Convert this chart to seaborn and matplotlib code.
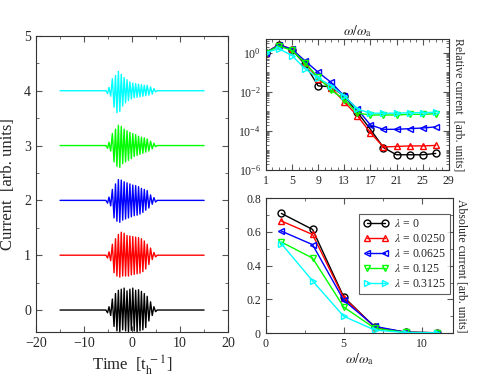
import numpy as np
import pandas as pd
import matplotlib
matplotlib.use("Agg")
import matplotlib.pyplot as plt
import matplotlib.ticker as mticker
import seaborn as sns

# ---- data ----
colors = ["#000000", "#ff0000", "#0000ff", "#00ff00", "#00ffff"]
lam_labels = [r"$\lambda$ = 0", r"$\lambda$ = 0.0250", r"$\lambda$ = 0.0625",
              r"$\lambda$ = 0.125", r"$\lambda$ = 0.3125"]
markers = ["o", "^", "<", "v", ">"]

# left panel: turning points of the current pulses (time, value), offset by 0..4
t_turn = [-15, -5.45, -5.1, -4.8, -4.45, -4.1, -3.75, -3.45, -3.15,
          -2.85, -2.55, -2.25, -1.95, -1.65, -1.35, -1.05, -0.75, -0.45, -0.15,
          0.15, 0.45, 0.75, 1.05, 1.35, 1.65, 1.95, 2.25, 2.55, 2.85,
          3.15, 3.5, 3.85, 4.2, 4.55, 4.9, 5.25, 15]
cur_0 = [0, 0, -0.05, 0.06, -0.1, 0.2, -0.3, 0.3, -0.38,
         0.36, -0.4, 0.38, -0.36, 0.4, -0.38, 0.35, -0.4, 0.38, -0.37,
         0.4, -0.38, 0.36, -0.4, 0.37, -0.38, 0.34, -0.36, 0.3, -0.32,
         0.25, -0.2, 0.15, -0.1, 0.06, -0.03, 0, 0]
cur_1 = [0, 0, -0.05, 0.06, -0.1, 0.2, -0.32, 0.3, -0.38,
         0.38, -0.4, 0.42, -0.38, 0.4, -0.38, 0.36, -0.38, 0.35, -0.36,
         0.34, -0.35, 0.33, -0.34, 0.32, -0.33, 0.3, -0.3, 0.26, -0.25,
         0.2, -0.17, 0.13, -0.08, 0.05, -0.03, 0, 0]
cur_2 = [0, 0, -0.05, 0.06, -0.1, 0.2, -0.32, 0.3, -0.38,
         0.38, -0.4, 0.37, -0.36, 0.34, -0.34, 0.32, -0.32, 0.3, -0.3,
         0.28, -0.28, 0.27, -0.27, 0.25, -0.25, 0.22, -0.22, 0.2, -0.18,
         0.18, -0.14, 0.1, -0.07, 0.05, -0.03, 0, 0]
cur_3 = [0, 0, -0.05, 0.06, -0.1, 0.22, -0.3, 0.3, -0.38,
         0.37, -0.4, 0.35, -0.33, 0.3, -0.3, 0.27, -0.27, 0.24, -0.24,
         0.22, -0.2, 0.2, -0.18, 0.17, -0.16, 0.15, -0.14, 0.14, -0.12,
         0.12, -0.1, 0.08, -0.06, 0.04, -0.02, 0, 0]
cur_4 = [0, 0, -0.05, 0.06, -0.1, 0.22, -0.3, 0.28, -0.4,
         0.35, -0.38, 0.3, -0.28, 0.24, -0.22, 0.2, -0.18, 0.16, -0.15,
         0.14, -0.13, 0.13, -0.12, 0.12, -0.11, 0.11, -0.1, 0.1, -0.09,
         0.1, -0.08, 0.07, -0.06, 0.04, -0.02, 0, 0]
offsets = [0, 1, 2, 3, 4]

# top right: relative current per harmonic
omega_rel = [1, 3, 5, 7, 9, 11, 13, 15, 17, 19, 21, 23, 25, 27]
rel_0 = [1.0, 2.4, 1.4, 0.25, 0.02, 0.018, 0.006, 0.0009, 1.2e-4, 1.4e-5, 6e-6, 6e-6, 6e-6, 7e-6]
rel_1 = [1.0, 2.6, 1.5, 0.3, 0.045, 0.016, 0.003, 0.0006, 8e-5, 1.5e-5, 1.6e-5, 1.7e-5, 1.7e-5, 1.8e-5]
rel_2 = [1.0, 2.5, 1.5, 0.38, 0.1, 0.03, 0.006, 0.0013, 2e-4, 1.2e-4, 1.2e-4, 1.3e-4, 1.4e-4, 1.6e-4]
rel_3 = [1.0, 2.2, 1.3, 0.3, 0.055, 0.012, 0.004, 0.0008, 6.5e-4, 6.5e-4, 6.5e-4, 7e-4, 7e-4, 7.5e-4]
rel_4 = [1.0, 1.6, 0.7, 0.15, 0.05, 0.02, 0.006, 0.0013, 8e-4, 8e-4, 8e-4, 8.5e-4, 8.5e-4, 9e-4]
rel_xticks = [1, 5, 9, 13, 17, 21, 25, 29]

# bottom right: absolute current per harmonic
omega_abs = [1, 3, 5, 7, 9, 11]
abs_0 = [0.71, 0.615, 0.215, 0.035, 0.005, 0.002]
abs_1 = [0.665, 0.585, 0.21, 0.035, 0.005, 0.002]
abs_2 = [0.605, 0.525, 0.195, 0.04, 0.005, 0.002]
abs_3 = [0.54, 0.445, 0.155, 0.028, 0.004, 0.002]
abs_4 = [0.53, 0.31, 0.10, 0.018, 0.003, 0.002]

currents = [cur_0, cur_1, cur_2, cur_3, cur_4]
rels = [rel_0, rel_1, rel_2, rel_3, rel_4]
abss = [abs_0, abs_1, abs_2, abs_3, abs_4]

sns.set_style("ticks")
plt.rcParams["font.family"] = ["Liberation Serif", "DejaVu Serif"]
plt.rcParams["mathtext.fontset"] = "stix"
plt.rcParams["xtick.direction"] = "in"
plt.rcParams["ytick.direction"] = "in"

fig = plt.figure(figsize=(4.79, 3.82), dpi=100)
ax1 = fig.add_axes([0.0752, 0.131, 0.401, 0.775])
ax2 = fig.add_axes([0.555, 0.555, 0.382, 0.343])
ax3 = fig.add_axes([0.555, 0.128, 0.390, 0.353])


def style(ax, fs):
    ax.tick_params(which="both", top=True, right=True, labelsize=fs, color="#555555")
    ax.tick_params(which="major", length=4)
    ax.tick_params(which="minor", length=2)
    for s in ax.spines.values():
        s.set_linewidth(0.8)
        s.set_color("#333333")


# left panel
for cur, off, c in zip(currents, offsets, colors):
    df = pd.DataFrame({"t": t_turn, "I": np.array(cur) + off})
    sns.lineplot(data=df, x="t", y="I", color=c, lw=1.0, sort=False, ax=ax1)
ax1.set_xlim(-20, 20)
ax1.set_ylim(-0.4, 5)
ax1.xaxis.set_major_locator(mticker.MultipleLocator(10))
ax1.xaxis.set_minor_locator(mticker.MultipleLocator(5))
ax1.yaxis.set_major_locator(mticker.MultipleLocator(1))
ax1.yaxis.set_minor_locator(mticker.MultipleLocator(0.5))
ax1.set_xlabel(r"Time  [t$_\mathrm{h}^{\;-1}$]", fontsize=12, labelpad=2)
ax1.set_ylabel("Current  [arb. units]", fontsize=12, labelpad=6)
style(ax1, 10)

# top right
for r, c, m in zip(rels, colors, markers):
    sns.lineplot(x=omega_rel, y=r, color=c, marker=m, markersize=5, mfc="none",
                 mec=c, mew=1.0, lw=1.0, ax=ax2)
ax2.set_yscale("log")
ax2.set_ylim(1e-6, 5)
ax2.set_xlim(1, 29)
ax2.xaxis.set_major_locator(mticker.FixedLocator(rel_xticks))
ax2.xaxis.set_minor_locator(mticker.MultipleLocator(1))
ax2.yaxis.set_major_locator(mticker.FixedLocator([1e-6, 1e-4, 1e-2, 1e0]))
ax2.yaxis.set_major_formatter(mticker.LogFormatterMathtext())
ax2.yaxis.set_minor_locator(mticker.LogLocator(base=10, subs=np.arange(1, 10), numticks=20))
ax2.yaxis.set_minor_formatter(mticker.NullFormatter())
ax2.xaxis.set_label_position("top")
ax2.set_xlabel(r"$\omega/\omega_\mathrm{a}$", fontsize=10, labelpad=3)
ax2.yaxis.set_label_position("right")
ax2.set_ylabel("Relative current  [arb. units]", fontsize=8.5, rotation=270, labelpad=11)
style(ax2, 8.5)

# bottom right
for a, c, m, lab in zip(abss, colors, markers, lam_labels):
    sns.lineplot(x=omega_abs, y=a, color=c, marker=m, markersize=5, mfc="none",
                 mec=c, mew=1.0, lw=1.0, label=lab, ax=ax3)
ax3.set_xlim(0, 12)
ax3.set_ylim(0, 0.8)
ax3.xaxis.set_major_locator(mticker.MultipleLocator(5))
ax3.xaxis.set_minor_locator(mticker.MultipleLocator(2.5))
ax3.yaxis.set_major_locator(mticker.MultipleLocator(0.2))
ax3.yaxis.set_minor_locator(mticker.MultipleLocator(0.1))
ax3.yaxis.set_major_formatter(mticker.FuncFormatter(lambda v, p: "0" if v == 0 else f"{v:.1f}"))
ax3.set_xlabel(r"$\omega/\omega_\mathrm{a}$", fontsize=10, labelpad=1)
ax3.yaxis.set_label_position("right")
ax3.set_ylabel("Absolute current [arb. units]", fontsize=8.5, rotation=270, labelpad=11)
leg = ax3.legend(loc="upper right", bbox_to_anchor=(0.985, 0.885), fontsize=8.5,
                 numpoints=2, fancybox=False, frameon=True, borderaxespad=0,
                 handlelength=2.2, handletextpad=0.4, labelspacing=0.25,
                 borderpad=0.35)
leg.get_frame().set_edgecolor("#333333")
leg.get_frame().set_linewidth(0.8)
style(ax3, 8.5)

fig.savefig("out.png", dpi=100)
